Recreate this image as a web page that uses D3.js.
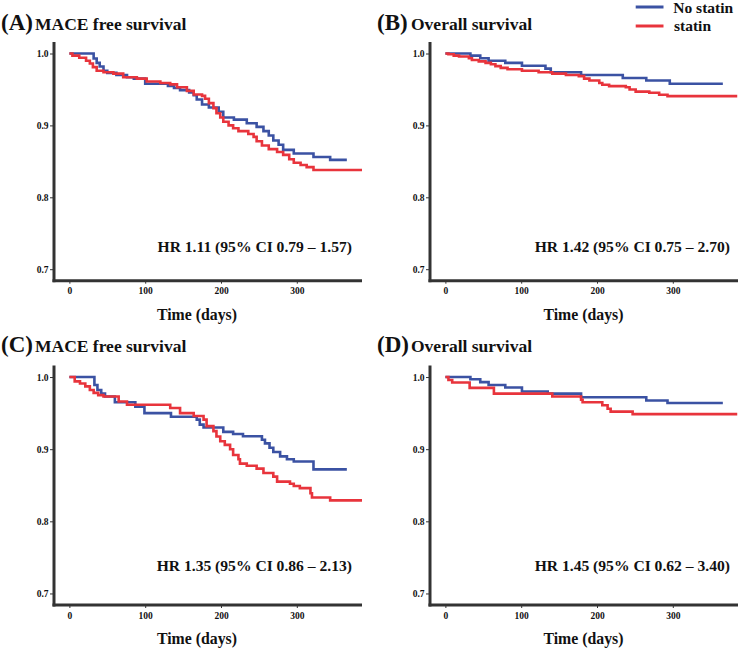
<!DOCTYPE html>
<html>
<head>
<meta charset="utf-8">
<script src="https://cdn.jsdelivr.net/npm/d3@7/dist/d3.min.js"></script>
<style>
  html, body { margin: 0; padding: 0; background: #fff; }
  svg { display: block; }
  text { font-family: "Liberation Serif", "Times New Roman", serif; font-weight: bold; fill: #111; }
</style>
</head>
<body>
<svg id="chart" width="738" height="649"></svg>
<script>
// ---------------- DATA ----------------
const seriesNames = ["No statin", "statin"];
const xTicks = [0, 100, 200, 300];
const yTicks = [0.7, 0.8, 0.9, 1.0];
const xLabel = "Time (days)";

const panelLetters = ["(A)", "(B)", "(C)", "(D)"];
const panelTitles = ["MACE free survival", "Overall survival", "MACE free survival", "Overall survival"];
const hrLabels = [
  "HR 1.11 (95% CI 0.79 \u2013 1.57)",
  "HR 1.42 (95% CI 0.75 \u2013 2.70)",
  "HR 1.35 (95% CI 0.86 \u2013 2.13)",
  "HR 1.45 (95% CI 0.62 \u2013 3.40)"
];

// [time (days), survival] ; last point = end of follow-up
const aNoStatin = [[0,1],[32,0.993],[36,0.987],[40,0.982],[45,0.976],[50,0.973],[62,0.970],[76,0.967],[85,0.965],[100,0.958],[130,0.955],[138,0.952],[146,0.949],[158,0.946],[164,0.942],[168,0.936],[175,0.929],[184,0.925],[197,0.919],[203,0.911],[217,0.908],[234,0.903],[247,0.898],[256,0.892],[263,0.886],[269,0.879],[276,0.873],[282,0.866],[296,0.861],[322,0.856],[344,0.852],[366,0.852]];
const aStatin = [[0,1],[4,0.997],[13,0.994],[22,0.990],[27,0.986],[31,0.981],[36,0.976],[45,0.974],[58,0.972],[71,0.967],[89,0.965],[102,0.961],[120,0.959],[133,0.957],[142,0.953],[155,0.948],[164,0.943],[175,0.941],[179,0.937],[184,0.931],[190,0.924],[194,0.917],[199,0.911],[203,0.905],[210,0.900],[216,0.896],[223,0.892],[236,0.888],[243,0.884],[247,0.878],[254,0.872],[263,0.867],[274,0.863],[282,0.859],[290,0.853],[296,0.848],[305,0.845],[313,0.842],[322,0.838],[386,0.838]];

const bNoStatin = [[0,1],[33,0.997],[46,0.9935],[57,0.990],[79,0.987],[101,0.983],[132,0.979],[139,0.974],[179,0.970],[234,0.966],[265,0.9625],[296,0.958],[366,0.958]];
const bStatin = [[0,1],[4,0.999],[11,0.997],[18,0.9958],[31,0.9935],[35,0.991],[44,0.989],[53,0.987],[60,0.985],[66,0.9825],[73,0.980],[82,0.978],[101,0.976],[123,0.974],[141,0.972],[159,0.970],[176,0.9685],[183,0.965],[190,0.9625],[203,0.959],[207,0.9565],[216,0.9546],[238,0.953],[243,0.950],[251,0.947],[269,0.9454],[282,0.9426],[293,0.9407],[385,0.9407]];

const cNoStatin = [[0,1],[33,0.989],[37,0.982],[42,0.977],[47,0.973],[60,0.965],[87,0.959],[99,0.950],[134,0.945],[168,0.941],[172,0.934],[177,0.930],[203,0.924],[216,0.921],[229,0.918],[254,0.913],[258,0.908],[264,0.902],[269,0.896],[278,0.890],[287,0.886],[296,0.883],[322,0.872],[366,0.872]];
const cStatin = [[0,1],[7,0.994],[14,0.991],[21,0.987],[27,0.982],[32,0.978],[38,0.975],[45,0.973],[65,0.966],[76,0.9615],[133,0.957],[146,0.950],[164,0.946],[177,0.941],[181,0.932],[190,0.925],[194,0.9175],[199,0.911],[205,0.906],[212,0.900],[216,0.892],[223,0.886],[225,0.880],[234,0.877],[247,0.873],[256,0.867],[269,0.862],[274,0.855],[291,0.852],[296,0.849],[304,0.846],[318,0.839],[320,0.833],[344,0.829],[386,0.829]];

const dNoStatin = [[0,1],[33,0.997],[46,0.993],[57,0.989],[79,0.9856],[101,0.980],[135,0.977],[179,0.972],[265,0.9675],[293,0.964],[366,0.964]];
const dStatin = [[0,1],[4,0.996],[9,0.9925],[32,0.985],[64,0.977],[141,0.973],[179,0.9685],[181,0.965],[207,0.961],[214,0.956],[218,0.952],[247,0.9486],[385,0.9486]];

const panelSeries = [[aNoStatin, aStatin], [bNoStatin, bStatin], [cNoStatin, cStatin], [dNoStatin, dStatin]];
const colors = ["#3B52A3", "#E8343C"];

// ---------------- LAYOUT ----------------
const colAxisX = [54, 430];
const plotW = 308;
const rowTop = [42, 365.5];
const rowBottom = [280.7, 605];
const xDomain = [-20.3, 386];
const yDomain = [0.684, 1.016];

const titleX = [1, 377];
const titleBaseline = [30, 351.5];
const hrRight = [352, 730];
const hrBaseline = [251.5, 571];
const xLabelCenter = [197, 583.5];
const xLabelBaseline = [320, 644];

const svg = d3.select("#chart");

panelSeries.forEach((series, i) => {
  const col = i % 2, row = Math.floor(i / 2);
  const x = d3.scaleLinear().domain(xDomain).range([colAxisX[col], colAxisX[col] + plotW]);
  const y = d3.scaleLinear().domain(yDomain).range([rowBottom[row], rowTop[row]]);
  const g = svg.append("g");

  // Title
  const t = g.append("text").attr("y", titleBaseline[row]);
  t.append("tspan").attr("x", titleX[col]).style("font-size", "23px").text(panelLetters[i]);
  t.append("tspan").attr("x", titleX[col] + 34).style("font-size", "17.5px").text(panelTitles[i]);

  // Curves
  const line = d3.line().x(d => x(d[0])).y(d => y(d[1])).curve(d3.curveStepAfter);
  series.forEach((s, k) => {
    g.append("path").datum(s)
      .attr("d", line)
      .attr("fill", "none")
      .attr("stroke", colors[k])
      .attr("stroke-width", 2.6)
      .attr("stroke-linejoin", "miter")
      .attr("stroke-linecap", "butt");
  });

  // Y axis
  const yAxis = d3.axisLeft(y).tickValues(yTicks).tickFormat(d3.format(".1f")).tickSize(4).tickSizeOuter(0).tickPadding(1.5);
  const ya = g.append("g").attr("transform", `translate(${colAxisX[col]},0)`).call(yAxis);
  ya.select(".domain").remove();
  ya.selectAll(".tick line").attr("stroke", "#333").attr("stroke-width", 1);
  ya.selectAll(".tick text").style("font-size", "9.5px").style("font-family", "Liberation Serif, serif").style("font-weight", "bold").attr("fill", "#222");

  // X axis
  const xAxis = d3.axisBottom(x).tickValues(xTicks).tickFormat(d3.format("d")).tickSize(3).tickSizeOuter(0).tickPadding(4);
  const xa = g.append("g").attr("transform", `translate(0,${rowBottom[row]})`).call(xAxis);
  xa.select(".domain").remove();
  xa.selectAll(".tick line").attr("stroke", "#333").attr("stroke-width", 1);
  xa.selectAll(".tick text").style("font-size", "9.5px").style("font-family", "Liberation Serif, serif").style("font-weight", "bold").attr("fill", "#222");

  // Axis lines (thick)
  g.append("line")
    .attr("x1", colAxisX[col]).attr("x2", colAxisX[col])
    .attr("y1", rowTop[row]).attr("y2", rowBottom[row] + 1.5)
    .attr("stroke", "#333").attr("stroke-width", 3);
  g.append("line")
    .attr("x1", colAxisX[col] - 1.5).attr("x2", colAxisX[col] + plotW)
    .attr("y1", rowBottom[row]).attr("y2", rowBottom[row])
    .attr("stroke", "#333").attr("stroke-width", 3);

  // HR label
  g.append("text")
    .attr("x", hrRight[col]).attr("y", hrBaseline[row])
    .attr("text-anchor", "end")
    .style("font-size", "15.6px")
    .text(hrLabels[i]);

  // X label
  g.append("text")
    .attr("x", xLabelCenter[col]).attr("y", xLabelBaseline[row])
    .attr("text-anchor", "middle")
    .style("font-size", "15.8px")
    .text(xLabel);
});

// Legend
const legendLineX = [635.7, 663.5];
const legendY = [7, 26];
const legendTextX = [673.3, 674];
const legendBase = [13, 31];
seriesNames.forEach((name, k) => {
  svg.append("line")
    .attr("x1", legendLineX[0]).attr("x2", legendLineX[1])
    .attr("y1", legendY[k]).attr("y2", legendY[k])
    .attr("stroke", colors[k]).attr("stroke-width", 3);
  svg.append("text")
    .attr("x", legendTextX[k]).attr("y", legendBase[k])
    .style("font-size", "15.5px")
    .text(name);
});
</script>
</body>
</html>
